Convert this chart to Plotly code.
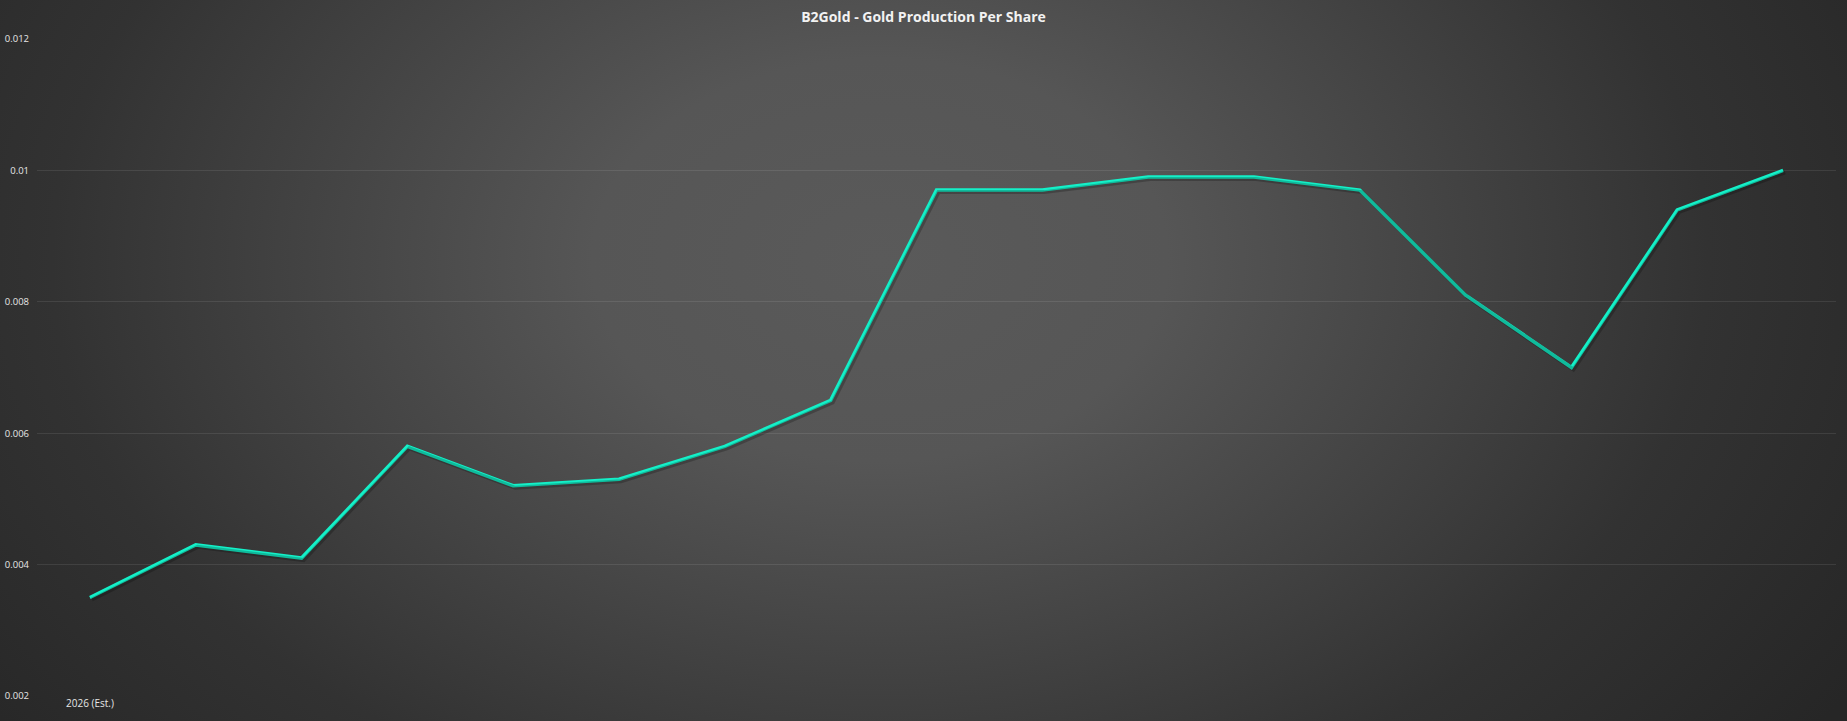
import base64
import plotly.graph_objects as go

# chart data
years = ["2026 (Est.)", "2025", "2024", "2023", "2022", "2021", "2020", "2019", "2018",
         "2017", "2016", "2015", "2014", "2013", "2012", "2011", "2010"]
gold_per_share = [0.0035, 0.0043, 0.0041, 0.0058, 0.0052, 0.0053, 0.0058, 0.0065, 0.0097,
                  0.0097, 0.0099, 0.0099, 0.0097, 0.0081, 0.0070, 0.0094, 0.0100]
y_ticks = [0.002, 0.004, 0.006, 0.008, 0.01, 0.012]
y_tick_labels = ["0.002", "0.004", "0.006", "0.008", "0.01", "0.012"]
x_tick_labels = ["2026 (Est.)"]

W, H = 1847, 721
ml, mr, mt, mb = 37, 11, 39, 25
pw, ph = W - ml - mr, H - mt - mb

# elliptical gray background glow, like the excel chart style
svg = f"""<svg xmlns='http://www.w3.org/2000/svg' width='{W}' height='{H}' viewBox='0 0 {W} {H}' preserveAspectRatio='none'>
<defs><radialGradient id='g' gradientUnits='userSpaceOnUse' cx='880' cy='260' r='1150'
 gradientTransform='translate(880 260) scale(1 0.7) translate(-880 -260)'>
<stop offset='0' stop-color='#5a5a5a'/><stop offset='0.25' stop-color='#565656'/>
<stop offset='0.72' stop-color='#323232'/><stop offset='1' stop-color='#262626'/></radialGradient></defs>
<rect width='{W}' height='{H}' fill='url(#g)'/></svg>"""
bg_uri = "data:image/svg+xml;base64," + base64.b64encode(svg.encode()).decode()

fig = go.Figure()

# soft shadow under the line (same data, axes nudged a couple of pixels)
fig.add_trace(go.Scatter(x=years, y=gold_per_share, mode="lines", xaxis="x2", yaxis="y2",
                         line=dict(color="rgba(0,0,0,0.22)", width=4), hoverinfo="skip",
                         showlegend=False))
fig.add_trace(go.Scatter(x=years, y=gold_per_share, mode="lines",
                         line=dict(color="#14f0c8", width=3.5), showlegend=False,
                         name="Gold Production Per Share"))

dx = 2 / (pw / len(years))
dy = 2 * 0.010 / ph

fig.update_layout(
    width=W, height=H,
    margin=dict(l=ml, r=mr, t=mt, b=mb),
    paper_bgcolor="#2a2a2a",
    plot_bgcolor="rgba(0,0,0,0)",
    title=dict(text="<b>B2Gold - Gold Production Per Share</b>", x=0.5, xanchor="center",
               y=1 - 17 / H, yanchor="middle",
               font=dict(family="Open Sans", size=14, color="#f2f2f2")),
    images=[dict(source=bg_uri, xref="paper", yref="paper", x=-ml / pw, y=1 + mt / ph,
                 sizex=W / pw, sizey=H / ph, xanchor="left", yanchor="top",
                 sizing="stretch", layer="below")],
    xaxis=dict(type="category", range=[-0.5, len(years) - 0.5], showgrid=False,
               zeroline=False, showline=False, tickvals=x_tick_labels, ticktext=x_tick_labels,
               ticks="", automargin=False,
               tickfont=dict(family="Open Sans", size=10, color="#e6e6e6")),
    yaxis=dict(range=[0.002, 0.012], tickvals=y_ticks, ticktext=y_tick_labels,
               showgrid=True, gridcolor="rgba(255,255,255,0.09)", gridwidth=1,
               zeroline=False, showline=False, ticks="", ticklabelstandoff=7, automargin=False,
               tickfont=dict(family="Open Sans", size=9.5, color="#e6e6e6")),
    xaxis2=dict(type="category", overlaying="x", range=[-0.5 - dx, len(years) - 0.5 - dx],
                visible=False),
    yaxis2=dict(overlaying="y", range=[0.002 + dy, 0.012 + dy], visible=False),
)

# drop the page margin so the chart sits at the window's top-left corner
fig.write_html("out.html", config={"displayModeBar": False},
               post_script="document.body.style.margin='0';")
